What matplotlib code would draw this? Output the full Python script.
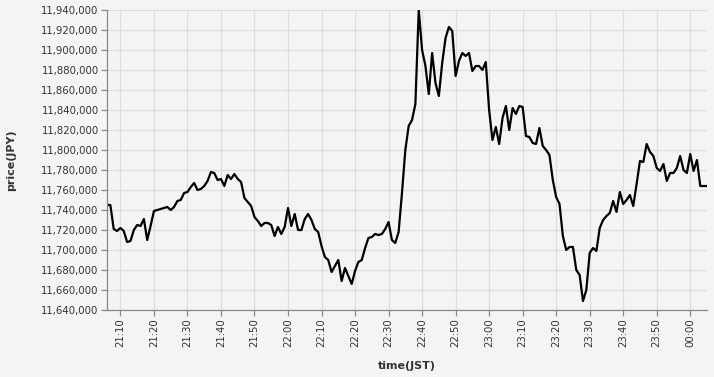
import pandas as pd
import matplotlib
matplotlib.use("Agg")
import matplotlib.pyplot as plt
import matplotlib.dates as mdates
from matplotlib.ticker import FuncFormatter, MultipleLocator

# one price per minute, 21:06 -> 00:05 (JST), in thousands of JPY
price_k = [
    11745, 11745, 11721, 11719, 11722, 11719, 11708, 11709, 11720, 11725,
    11724, 11731, 11710, 11724, 11739, 11740, 11741, 11742, 11743, 11740,
    11743, 11749, 11750, 11757, 11758, 11763, 11767, 11760, 11761, 11764,
    11769, 11778, 11777, 11770, 11771, 11764, 11775, 11771, 11776, 11771,
    11768, 11752, 11748, 11744, 11733, 11729, 11724, 11727, 11727, 11725,
    11714, 11723, 11716, 11723, 11742, 11724, 11736, 11720, 11720, 11731,
    11736,
    11730, 11721, 11718, 11704, 11693, 11690, 11678, 11684, 11690, 11669,
    11682, 11674, 11666, 11679, 11688, 11690, 11702, 11712, 11713, 11716,
    11715, 11716, 11721, 11728, 11710, 11707, 11718, 11757, 11800, 11824,
    11830, 11846, 11940, 11900, 11884, 11856, 11897, 11867, 11854, 11887,
    11912, 11923, 11919, 11874, 11889, 11897, 11894, 11897, 11879, 11884,
    11884, 11880, 11888, 11840, 11810, 11823, 11806, 11832, 11844,
    11820, 11842, 11836, 11844, 11843, 11814, 11813, 11807, 11806, 11822,
    11804, 11800, 11795, 11770, 11753, 11746, 11714, 11700, 11703, 11703,
    11680, 11675, 11649, 11660, 11697, 11702, 11699, 11722, 11730, 11734,
    11737, 11749, 11738, 11758, 11746, 11750, 11755, 11744, 11766, 11789,
    11788, 11806, 11798, 11794, 11782, 11779, 11786, 11769, 11777, 11777,
    11782, 11794, 11780, 11777, 11796, 11779, 11790, 11764, 11764, 11764,
]
times = pd.date_range("2021-01-01 21:06", periods=len(price_k), freq="min")
prices = [p * 1000 for p in price_k]

bg = "#f4f4f4"
grid_c = "#dedede"
axis_c = "#888888"
text_c = "#333333"

fig = plt.figure(figsize=(7.14, 3.77), dpi=100, facecolor=bg)
ax = fig.add_axes([107 / 714, 1 - 310 / 377, 600 / 714, 300 / 377])
ax.set_facecolor(bg)

ax.plot(times, prices, color="black", linewidth=1.6)

ax.set_xlim(times[0], times[-1])
ax.set_ylim(11640000, 11940000)
ax.yaxis.set_major_locator(MultipleLocator(20000))
ax.yaxis.set_major_formatter(FuncFormatter(lambda v, p: f"{int(v):,}"))
ax.xaxis.set_major_locator(mdates.MinuteLocator(byminute=range(0, 60, 10)))
ax.xaxis.set_major_formatter(mdates.DateFormatter("%H:%M"))

ax.grid(True, color=grid_c, linewidth=0.9)
ax.set_axisbelow(True)
for s in ["top", "right"]:
    ax.spines[s].set_visible(False)
for s in ["left", "bottom"]:
    ax.spines[s].set_color(axis_c)
    ax.spines[s].set_linewidth(0.9)

ax.tick_params(axis="both", colors=axis_c, length=4, width=0.9, pad=2,
               labelcolor=text_c, labelsize=7.3)
plt.setp(ax.get_xticklabels(), rotation=90)

ax.set_xlabel("time(JST)", fontsize=8, fontweight="bold", color=text_c, labelpad=10)
ax.set_ylabel("price(JPY)", fontsize=8, fontweight="bold", color=text_c, labelpad=18)

fig.savefig("out.png", dpi=100, facecolor=bg)
